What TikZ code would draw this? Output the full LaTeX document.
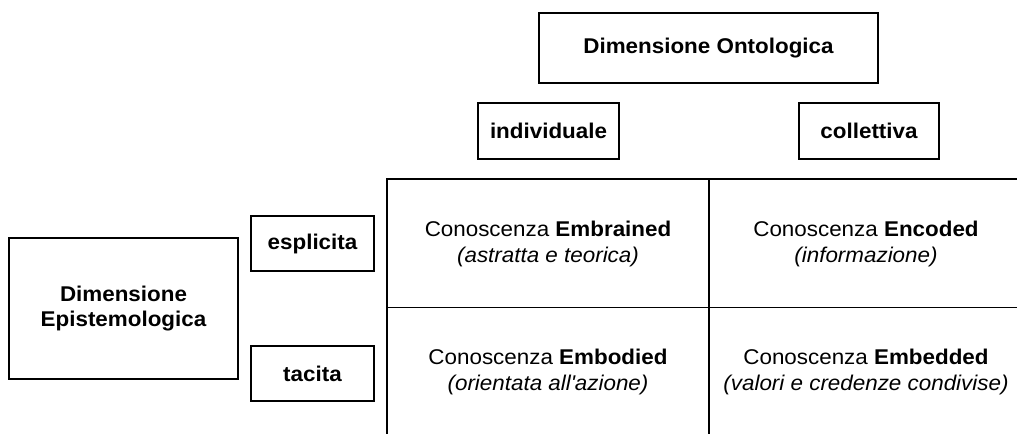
\documentclass[tikz,border=0pt]{standalone}
\usepackage{fontspec}
\setmainfont{Liberation Sans}[FakeStretch=1.05]
\usepackage{tikz}
\usetikzlibrary{positioning}
\tikzset{%
  every dimbox/.style={
    rectangle,
    draw,
    line width=1.25pt,
    align=center,
    font=\bfseries,
    inner sep=0pt
  },
  cell text/.style={
    align=center,
    inner sep=0pt
  },
}

\begin{document}
\fontsize{16pt}{19pt}\selectfont
\begin{tikzpicture}[x=0.75pt,y=-0.75pt]
          \useasboundingbox (0,0) rectangle (1017,434);
          \node[every dimbox,minimum width=339*0.75pt,minimum height=70*0.75pt] (onto) at (708.5,48) {Dimensione Ontologica};
          \node[every dimbox,minimum width=141*0.75pt,minimum height=56*0.75pt] (indiv) at (548.5,131) {individuale};
          \node[every dimbox,minimum width=140*0.75pt,minimum height=56*0.75pt] (coll) at (869,131) {collettiva};
          \node[every dimbox,minimum width=229*0.75pt,minimum height=141*0.75pt] (episte) at (123.5,308.5) {Dimensione\\Epistemologica};
          \node[every dimbox,minimum width=123*0.75pt,minimum height=55*0.75pt] (espl) at (312.5,243.5) {esplicita};
          \node[every dimbox,minimum width=123*0.75pt,minimum height=55*0.75pt] (tac) at (312.5,373.5) {tacita};
          % griglia
          \coordinate (gTL) at (387,179);
          \coordinate (gTM) at (709,179);
          \coordinate (gTR) at (1017,179);
          \coordinate (gML) at (387,307.5);
          \coordinate (gMR) at (1017,307.5);
          \coordinate (gBL) at (387,434);
          \coordinate (gBM) at (709,434);
          \draw[line width=1.25pt] (gBL) -- (gTL) -- (gTR);
          \draw[line width=1.25pt] (gTM) -- (gBM);
          \draw[line width=1.25pt] (gML) -- (gMR);
          \node[cell text] (embrained) at (548,244) {Conoscenza \textbf{Embrained}\\\textit{(astratta e teorica)}};
          \node[cell text] (encoded) at (866,244) {Conoscenza \textbf{Encoded}\\\textit{(informazione)}};
          \node[cell text] (embodied) at (548,372) {Conoscenza \textbf{Embodied}\\\textit{(orientata all\textquotesingle azione)}};
          \node[cell text] (embedded) at (866,372) {Conoscenza \textbf{Embedded}\\\textit{(valori e credenze condivise)}};
\end{tikzpicture}
\end{document}
